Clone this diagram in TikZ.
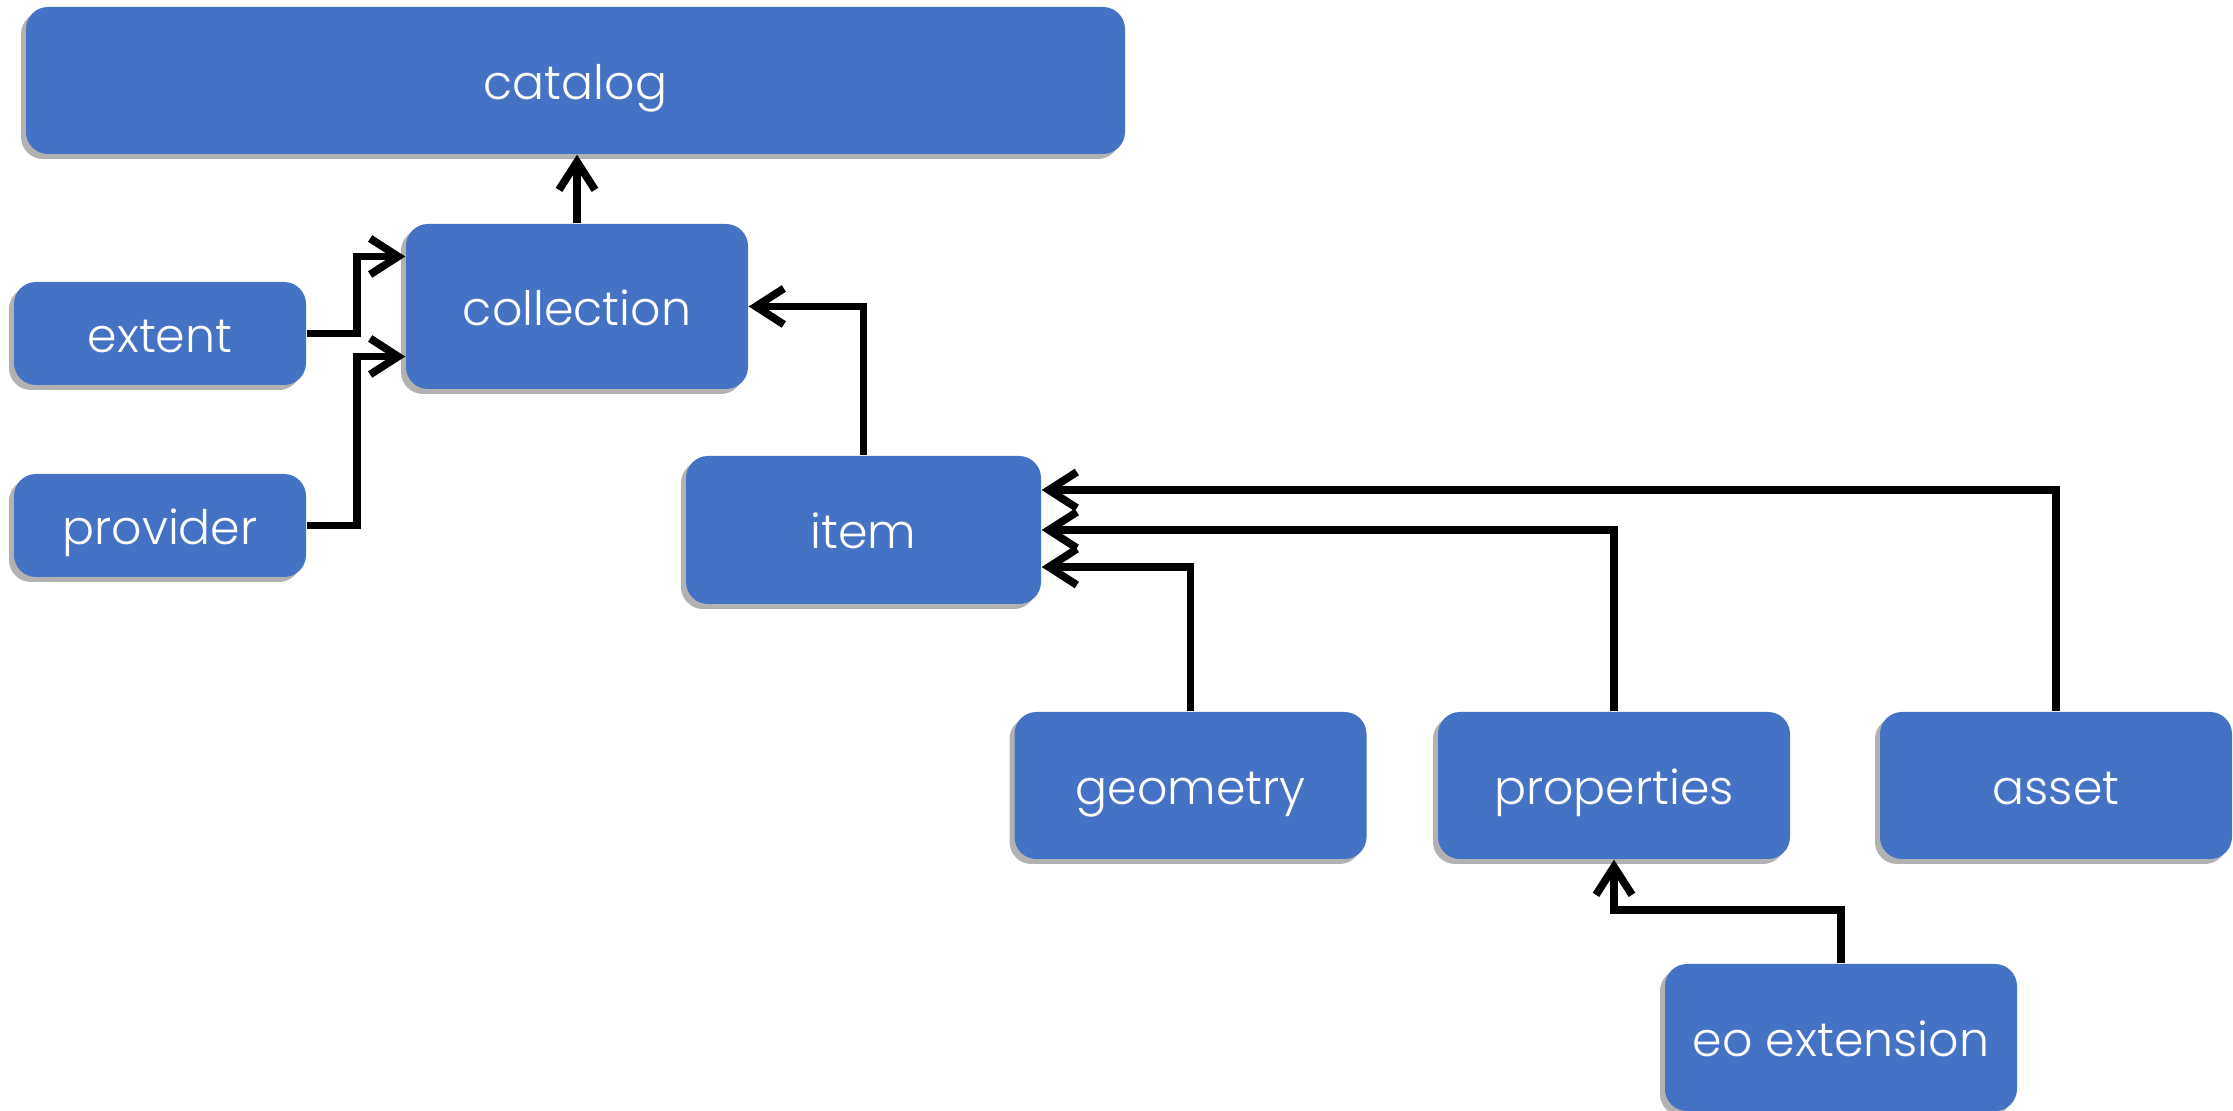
\documentclass[tikz,border=0pt]{standalone}
\usepackage{fontspec}
\setmainfont{Poppins}[UprightFont=* Light]
\usetikzlibrary{arrows.meta, shadows}
\definecolor{boxblue}{HTML}{4472C4}
\tikzstyle{arrow} = [line width=2.2pt,-{Straight Barb[length=2.8mm,width=3.6mm]}]

\begin{document}
\begin{tikzpicture}
        [
            box/.style={rectangle,rounded corners=0.22cm,fill=boxblue,text=white,
                font=\fontsize{13.5}{16}\selectfont,minimum width=3.52cm,minimum height=1.47cm,
                text height=2.2ex,text depth=0.25ex,
                drop shadow={shadow xshift=-0.5mm,shadow yshift=-0.5mm,opacity=0.3,fill=black}},
        ]
    \useasboundingbox (0,0) rectangle (22.33,11.11);

    \node[box,minimum width=10.99cm] (catalog) at (5.755,10.305){catalog};
    \node[box,minimum width=3.42cm,minimum height=1.65cm] (collection) at (5.77,8.045){collection};
    \node[box,minimum width=2.92cm,minimum height=1.03cm] (extent) at (1.60,7.775){extent};
    \node[box,minimum width=2.92cm,minimum height=1.03cm] (provider) at (1.60,5.855){provider};
    \node[box,minimum width=3.55cm,minimum height=1.48cm] (item) at (8.635,5.81){item};
    \node[box] (geometry) at (11.905,3.255){geometry};
    \node[box] (properties) at (16.14,3.255){properties};
    \node[box] (asset) at (20.56,3.255){asset};
    \node[box] (eo) at (18.41,0.735){eo extension};

    \draw[arrow] (collection.north) -- (catalog.south -| collection.north);
    \draw[arrow] (extent.east) -- ++(0.5,0) |- ([yshift=5mm]collection.west);
    \draw[arrow] (provider.east) -- ++(0.5,0) |- ([yshift=-5mm]collection.west);
    \draw[arrow] (item.north) |- (collection.east);
    \draw[arrow] (geometry.north) |- ([yshift=-3.7mm]item.east);
    \draw[arrow] (properties.north) |- (item.east);
    \draw[arrow] (asset.north) |- ([yshift=4mm]item.east);
    \draw[arrow] (eo.north) -- ++(0,0.53) -| (properties.south);
\end{tikzpicture}
\end{document}
